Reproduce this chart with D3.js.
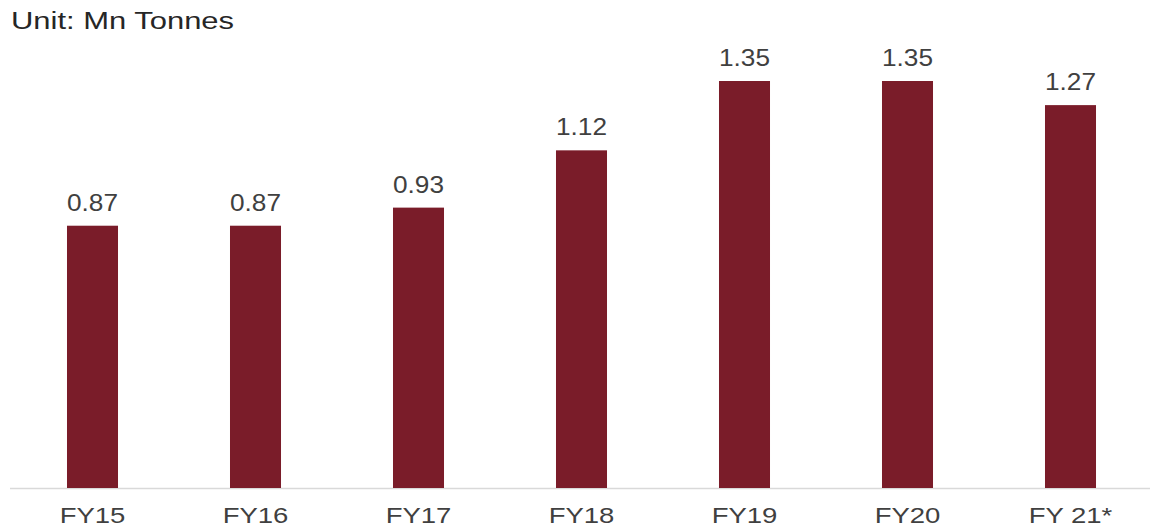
<!DOCTYPE html>
<html><head><meta charset="utf-8">
<script src="https://cdn.jsdelivr.net/npm/d3@7"></script>
<style>body{margin:0;background:#fff}svg{display:block}</style>
</head><body>
<svg id="c" width="1150" height="529"></svg>
<script>
const categories = ["FY15","FY16","FY17","FY18","FY19","FY20","FY 21*"];
const values = [0.87,0.87,0.93,1.12,1.35,1.35,1.27];
const valueLabels = ["0.87","0.87","0.93","1.12","1.35","1.35","1.27"];
const title = "Unit: Mn Tonnes";

const svg = d3.select("#c");
const font = "'Liberation Sans', Arial, sans-serif";
const textColor = "#404040";
const barColor = "#7a1c29";
const baseY = 488;

const x = d3.scaleBand().domain(categories).range([11, 1152]).paddingInner(0.687).paddingOuter(0.3435);
const y = d3.scaleLinear().domain([0, 1.35]).range([baseY, 81]);

svg.append("line").attr("x1", 10).attr("x2", 1150).attr("y1", baseY + 0.5).attr("y2", baseY + 0.5)
  .attr("stroke", "#d9d9d9").attr("stroke-width", 1.5);

svg.selectAll("rect.bar").data(values).join("rect")
  .attr("x", (d,i) => x(categories[i]))
  .attr("width", x.bandwidth())
  .attr("y", d => y(d))
  .attr("height", d => baseY - y(d))
  .attr("fill", barColor);

function stretchedText(sel, tx, ty, sx) {
  sel.attr("transform", `translate(${tx},${ty}) scale(${sx},1)`);
}

svg.selectAll("text.val").data(values).join("text")
  .attr("class","val")
  .attr("font-family", font).attr("font-size", 23).attr("fill", textColor)
  .attr("text-anchor","middle")
  .each(function(d,i){
    stretchedText(d3.select(this), x(categories[i]) + x.bandwidth()/2, y(d) - 15, 1.14);
  })
  .text((d,i) => valueLabels[i]);

const xAxis = d3.axisBottom(x).tickSize(0).tickPadding(0);
const ax = svg.append("g").attr("transform", `translate(0,${baseY})`).call(xAxis);
ax.select(".domain").remove();
ax.selectAll(".tick text")
  .attr("font-family", font).attr("font-size", 22).attr("fill", textColor)
  .attr("dy", 0).attr("y", 0)
  .attr("transform", "translate(0,35) scale(1.25,1)");

const t = svg.append("text").attr("font-family", font).attr("font-size", 24).attr("fill", "#262626")
  .text(title);
stretchedText(t, 11, 29, 1.29);
</script>
</body></html>
